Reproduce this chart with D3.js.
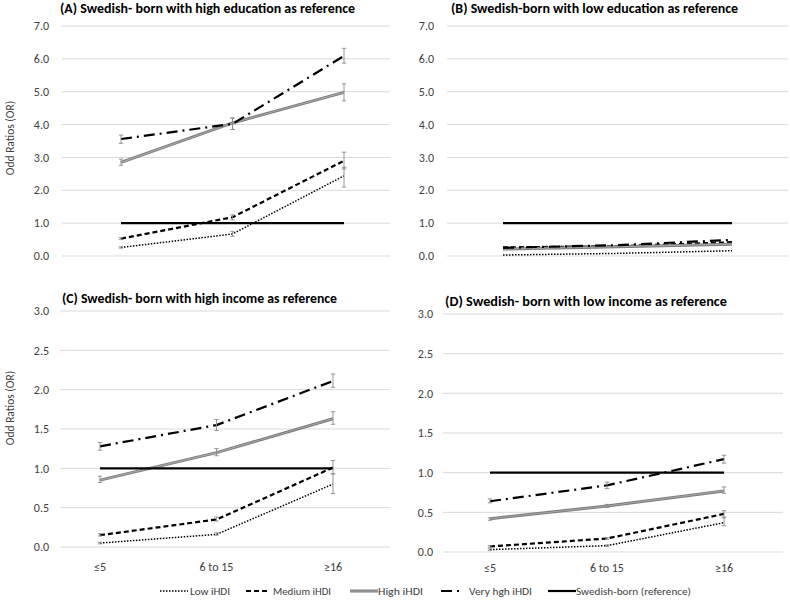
<!DOCTYPE html>
<html>
<head>
<meta charset="utf-8">
<script src="https://cdn.jsdelivr.net/npm/d3@7"></script>
<style>
  body { margin: 0; background: #fff; }
  svg { display: block; }
  text { font-family: Carlito, "Liberation Sans", Arial, sans-serif; }
</style>
</head>
<body>
<svg id="chart" width="790" height="600"></svg>
<script>
// ---------------- DATA ----------------
const categories = ["≤5", "6 to 15", "≥16"];
const seriesNames = ["Low iHDI", "Medium iHDI", "High iHDI", "Very hgh iHDI", "Swedish-born (reference)"];

const titles = [
  "(A) Swedish- born with high education as reference",
  "(B) Swedish-born with low education as reference",
  "(C) Swedish- born with high income as reference",
  "(D) Swedish- born with low income as reference"
];

const yTicksEducation = [0, 1, 2, 3, 4, 5, 6, 7];
const yTicksIncome = [0, 0.5, 1, 1.5, 2, 2.5, 3];

// Panel A
const aLow = [0.26, 0.67, 2.44];
const aMedium = [0.53, 1.18, 2.90];
const aHigh = [2.85, 4.05, 4.98];
const aVeryHigh = [3.56, 4.02, 6.09];
const aRef = [1, 1, 1];
const aLowCI = [[0.24, 0.28], [0.60, 0.75], [2.10, 2.70]];
const aMediumCI = [[0.50, 0.56], [1.10, 1.25], [2.65, 3.16]];
const aHighCI = [[2.76, 2.95], [3.85, 4.20], [4.72, 5.24]];
const aVeryHighCI = [[3.43, 3.68], [3.85, 4.20], [5.87, 6.32]];

// Panel B
const bLow = [0.03, 0.08, 0.16];
const bMedium = [0.26, 0.30, 0.42];
const bHigh = [0.21, 0.28, 0.36];
const bVeryHigh = [0.25, 0.33, 0.49];
const bRef = [1, 1, 1];

// Panel C
const cLow = [0.05, 0.16, 0.80];
const cMedium = [0.15, 0.35, 1.01];
const cHigh = [0.85, 1.20, 1.63];
const cVeryHigh = [1.28, 1.55, 2.11];
const cRef = [1, 1, 1];
const cLowCI = [[0.04, 0.06], [0.15, 0.18], [0.68, 0.93]];
const cMediumCI = [[0.14, 0.17], [0.33, 0.38], [0.93, 1.10]];
const cHighCI = [[0.82, 0.90], [1.16, 1.25], [1.56, 1.72]];
const cVeryHighCI = [[1.23, 1.33], [1.48, 1.62], [2.03, 2.20]];

// Panel D
const dLow = [0.03, 0.08, 0.37];
const dMedium = [0.07, 0.17, 0.48];
const dHigh = [0.42, 0.58, 0.77];
const dVeryHigh = [0.64, 0.84, 1.17];
const dRef = [1, 1, 1];
const dLowCI = [[0.02, 0.04], [0.07, 0.09], [0.33, 0.43]];
const dMediumCI = [[0.06, 0.08], [0.16, 0.18], [0.44, 0.52]];
const dHighCI = [[0.40, 0.43], [0.56, 0.60], [0.74, 0.82]];
const dVeryHighCI = [[0.62, 0.67], [0.80, 0.88], [1.12, 1.22]];

// ---------------- STYLES ----------------
const styles = {
  "Low iHDI": { color: "#000", width: 1.5, dash: "1.5,1.5" },
  "Medium iHDI": { color: "#000", width: 2.2, dash: "5,3" },
  "High iHDI": { color: "#7a7a7a", width: 3, dash: null, inner: "#a6a6a6" },
  "Very hgh iHDI": { color: "#000", width: 2.2, dash: "11,5,2,5" },
  "Swedish-born (reference)": { color: "#000", width: 2.2, dash: null }
};

const panels = [
  { title: titles[0], ticks: yTicksEducation, max: 7, grid: [62, 390], y: [256, 26], px: [121, 344],
    tickRight: 49, titleX: 60, titleY: 13, titleW: 295, yTitle: { x: 10, y: 138 }, xLabels: false,
    series: [aLow, aMedium, aHigh, aVeryHigh, aRef], ci: [aLowCI, aMediumCI, aHighCI, aVeryHighCI, null] },
  { title: titles[1], ticks: yTicksEducation, max: 7, grid: [447, 788], y: [256, 26], px: [503, 732],
    tickRight: 434, titleX: 451, titleY: 13, titleW: 287, yTitle: null, xLabels: false,
    series: [bLow, bMedium, bHigh, bVeryHigh, bRef], ci: [null, null, null, null, null] },
  { title: titles[2], ticks: yTicksIncome, max: 3, grid: [60, 390], y: [547, 311], px: [100, 333],
    tickRight: 49, titleX: 62, titleY: 303, titleW: 275, yTitle: { x: 10, y: 408 }, xLabels: true, xLabelY: 571,
    series: [cLow, cMedium, cHigh, cVeryHigh, cRef], ci: [cLowCI, cMediumCI, cHighCI, cVeryHighCI, null] },
  { title: titles[3], ticks: yTicksIncome, max: 3, grid: [443, 783], y: [552, 314], px: [490, 724],
    tickRight: 433, titleX: 445, titleY: 306, titleW: 282, yTitle: null, xLabels: true, xLabelY: 572,
    series: [dLow, dMedium, dHigh, dVeryHigh, dRef], ci: [dLowCI, dMediumCI, dHighCI, dVeryHighCI, null] }
];

const svg = d3.select("#chart");

function drawLine(g, pts, st) {
  const line = d3.line().x(d => d[0]).y(d => d[1]);
  const p = g.append("path").attr("d", line(pts)).attr("fill", "none")
    .attr("stroke", st.color).attr("stroke-width", st.width);
  if (st.dash) p.attr("stroke-dasharray", st.dash);
  if (st.inner) {
    g.append("path").attr("d", line(pts)).attr("fill", "none")
      .attr("stroke", st.inner).attr("stroke-width", 1.1);
  }
}

panels.forEach(P => {
  const g = svg.append("g");
  const y = d3.scaleLinear().domain([0, P.max]).range(P.y);
  const x = d3.scalePoint().domain(categories).range(P.px);

  // gridlines
  g.selectAll(".grid").data(P.ticks).enter().append("line")
    .attr("x1", P.grid[0]).attr("x2", P.grid[1])
    .attr("y1", d => y(d)).attr("y2", d => y(d))
    .attr("stroke", "#d9d9d9").attr("stroke-width", 1);

  // y tick labels
  g.selectAll(".yt").data(P.ticks).enter().append("text")
    .attr("x", P.tickRight).attr("y", d => y(d)).attr("dy", "0.35em")
    .attr("text-anchor", "end").attr("font-size", 12).attr("fill", "#404040")
    .text(d => d3.format(".1f")(d));

  // title
  g.append("text").attr("x", P.titleX).attr("y", P.titleY)
    .attr("font-size", 13).attr("font-weight", "bold").attr("fill", "#000")
    .attr("textLength", P.titleW).attr("lengthAdjust", "spacingAndGlyphs")
    .text(P.title);

  if (P.yTitle) {
    g.append("text").attr("transform", `translate(${P.yTitle.x},${P.yTitle.y}) rotate(-90)`)
      .attr("text-anchor", "middle").attr("dy", "0.35em").attr("font-size", 11.5).attr("fill", "#404040")
      .text("Odd Ratios (OR)");
  }

  if (P.xLabels) {
    g.selectAll(".xl").data(categories).enter().append("text")
      .attr("x", d => x(d)).attr("y", P.xLabelY)
      .attr("text-anchor", "middle").attr("font-size", 12).attr("fill", "#404040")
      .text(d => d);
  }

  // series lines
  P.series.forEach((vals, i) => {
    const st = styles[seriesNames[i]];
    const pts = vals.map((v, j) => [x(categories[j]), y(v)]);
    drawLine(g, pts, st);
  });

  // error bars
  P.ci.forEach((ci, i) => {
    if (!ci) return;
    ci.forEach((c, j) => {
      const cx = x(categories[j]);
      const eg = g.append("g").attr("stroke", "#8a8a8a").attr("stroke-width", 0.9);
      eg.append("line").attr("x1", cx).attr("x2", cx).attr("y1", y(c[0])).attr("y2", y(c[1]));
      eg.append("line").attr("x1", cx - 2.2).attr("x2", cx + 2.2).attr("y1", y(c[0])).attr("y2", y(c[0]));
      eg.append("line").attr("x1", cx - 2.2).attr("x2", cx + 2.2).attr("y1", y(c[1])).attr("y2", y(c[1]));
    });
  });
});

// legend
const legendItems = [
  { name: seriesNames[0], x1: 160, x2: 188, tx: 190, tw: 40 },
  { name: seriesNames[1], x1: 246, x2: 270, tx: 273, tw: 58 },
  { name: seriesNames[2], x1: 350, x2: 378, tx: 378, tw: 45 },
  { name: seriesNames[3], x1: 441, x2: 460, tx: 469, tw: 63 },
  { name: seriesNames[4], x1: 548, x2: 576, tx: 576, tw: 115 }
];
const ly = 591;
const lg = svg.append("g");
legendItems.forEach(it => {
  const st = styles[it.name];
  drawLine(lg, [[it.x1, ly], [it.x2, ly]], st);
  lg.append("text").attr("x", it.tx).attr("y", ly).attr("dy", "0.35em")
    .attr("font-size", 10).attr("fill", "#404040")
    .attr("textLength", it.tw).attr("lengthAdjust", "spacingAndGlyphs")
    .text(it.name);
});
</script>
</body>
</html>
